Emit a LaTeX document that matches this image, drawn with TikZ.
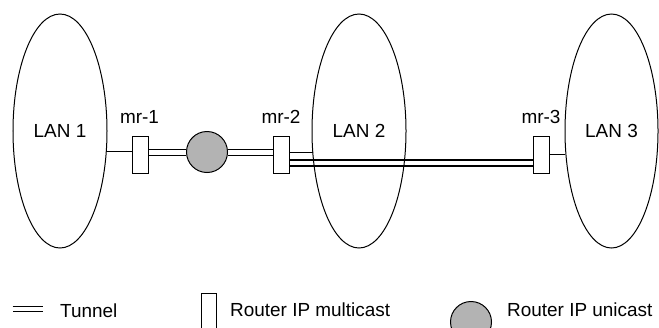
\documentclass[tikz,border=0pt]{standalone}
\usepackage{fontspec}
\setmainfont{Liberation Sans}
\usetikzlibrary{shapes.geometric}
\definecolor{ucgray}{RGB}{179,179,179}
\pgfdeclarelayer{bg}
\pgfsetlayers{bg,main}
\tikzset{
  lbl/.style={inner sep=0pt, font=\fontsize{19}{22}\selectfont},
  lan/.style={draw, ellipse, minimum width=94bp, minimum height=234bp, inner sep=0pt, line width=1bp, lbl},
  mrouter/.style={draw, rectangle, minimum width=16bp, minimum height=37bp, inner sep=0pt, fill=white, line width=1bp},
  urouter/.style={draw, circle, minimum size=41bp, inner sep=0pt, fill=ucgray, line width=1bp},
  link/.style={line width=1bp},
  dlink/.style={double, double distance=5bp, line width=1bp},
  tunnel/.style={double, double distance=4.7bp, line width=1.3bp},
}
\begin{document}
\begin{tikzpicture}[x=1bp, y=-1bp]
\useasboundingbox (0,0) rectangle (659,327);
\clip (0,0) rectangle (659,327);

% LANs
\node[lan] (lan1) at (60,131) {LAN 1};
\node[lan] (lan2) at (359,131) {LAN 2};
\node[lan, minimum width=93bp] (lan3) at (611.5,131) {LAN 3};

% routers
\node[mrouter] (mr1) at (140,154.5) {};
\node[mrouter] (mr2) at (281,154.5) {};
\node[mrouter] (mr3) at (541,154.7) {};
\node[urouter] (uc) at (207,152) {};

% router labels
\node[lbl, anchor=base] (mr1l) at (139.5,123.3) {mr-1};
\node[lbl, anchor=base] (mr2l) at (281,123.3) {mr-2};
\node[lbl, anchor=base] (mr3l) at (541,123.3) {mr-3};

% border points on the LANs
\coordinate (l1e) at (106.5,151.3);
\coordinate (l2w) at (312.8,152.3);
\coordinate (l3w) at (565,154.5);

\begin{pgfonlayer}{bg}
  \draw[link] (l1e) -- (mr1.west |- l1e);
  \draw[dlink] (mr1.east |- uc.center) -- (uc.west);
  \draw[dlink] (uc.east) -- (mr2.west |- uc.center);
  \draw[link] (mr2.east |- l2w) -- (l2w);
  \draw[tunnel] ([yshift=-8.5bp]mr2.east) -- ([yshift=-8.3bp]mr3.west);
  \draw[link] (mr3.east |- l3w) -- (l3w);
\end{pgfonlayer}

% legend
\coordinate (tl1) at (12.7,309.2);
\coordinate (tl2) at (43.3,309.2);
\draw[dlink, double distance=4bp] (tl1) -- (tl2);
\node[lbl, anchor=west] (tunl) at (60,310.5) {Tunnel};
\node[mrouter, minimum width=15bp] (lgm) at (209,311.5) {};
\node[lbl, anchor=west] (lgml) at (230,310) {Router IP multicast};
\node[urouter] (lgu) at (471,322) {};
\node[lbl, anchor=west] (lgul) at (507,310) {Router IP unicast};
\end{tikzpicture}
\end{document}
